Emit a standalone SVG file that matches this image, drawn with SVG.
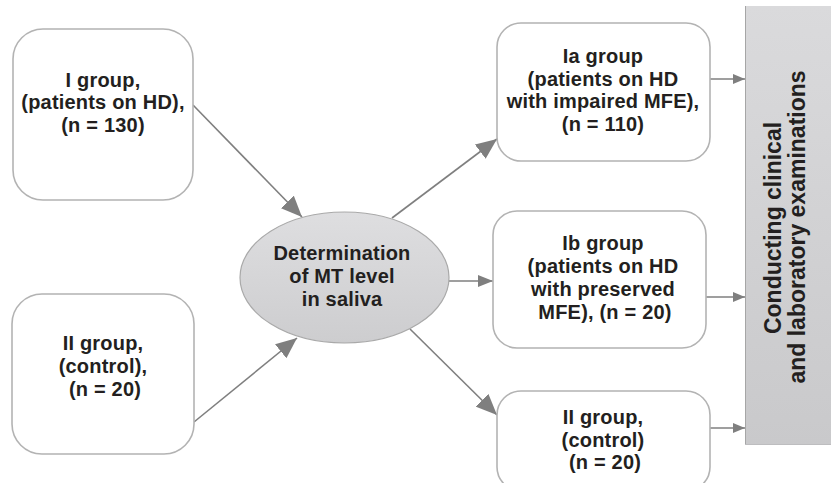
<svg xmlns="http://www.w3.org/2000/svg" width="831" height="483" viewBox="0 0 831 483">
<style>
.box{fill:#fff;stroke:#b3b3b3;stroke-width:1.6}
.t{font-family:"Liberation Sans",Arial,sans-serif;font-weight:bold;font-size:20px;fill:#231f20;text-anchor:middle;letter-spacing:0.2px}
.vt{font-family:"Liberation Sans",Arial,sans-serif;font-weight:bold;font-size:23px;fill:#231f20;text-anchor:middle}
.c{stroke:#7f7f7f;stroke-width:1.6;fill:none}
</style>
<defs>
<marker id="big" markerUnits="userSpaceOnUse" markerWidth="22" markerHeight="18" refX="21" refY="9" orient="auto"><path d="M0,0 L21,9 L0,18 z" fill="#7f7f7f"/></marker>
<marker id="med" markerUnits="userSpaceOnUse" markerWidth="16" markerHeight="12" refX="15" refY="6" orient="auto"><path d="M0,0 L15,6 L0,12 z" fill="#7f7f7f"/></marker>
<marker id="sm" markerUnits="userSpaceOnUse" markerWidth="13" markerHeight="10" refX="12" refY="5" orient="auto"><path d="M0,0 L12,5 L0,10 z" fill="#7f7f7f"/></marker>
<linearGradient id="eg" x1="0" y1="0" x2="0" y2="1"><stop offset="0" stop-color="#dedee0"/><stop offset="1" stop-color="#cdcdcf"/></linearGradient>
<linearGradient id="rg" x1="0" y1="0" x2="0" y2="1"><stop offset="0" stop-color="#dadadc"/><stop offset="1" stop-color="#c9c9cb"/></linearGradient>
</defs>
<g id="connectors">
<line class="c" x1="193" y1="105" x2="302" y2="217" marker-end="url(#big)"/>
<line class="c" x1="194" y1="422" x2="297" y2="338" marker-end="url(#big)"/>
<line class="c" x1="392" y1="218" x2="497" y2="139" marker-end="url(#big)"/>
<line class="c" x1="449" y1="281" x2="493" y2="281" marker-end="url(#med)"/>
<line class="c" x1="410" y1="329" x2="497" y2="415" marker-end="url(#big)"/>
<line class="c" x1="710" y1="79" x2="745" y2="79" marker-end="url(#sm)"/>
<line class="c" x1="706" y1="297" x2="745" y2="297" marker-end="url(#sm)"/>
<line class="c" x1="710" y1="428" x2="745" y2="428" marker-end="url(#sm)"/>
</g>
<g id="group1">
<rect class="box" x="13" y="29" width="180" height="171" rx="30"/>
<text class="t" x="103" y="87">I group,</text>
<text class="t" x="103" y="109">(patients on HD),</text>
<text class="t" x="103" y="132">(n = 130)</text>
</g>
<g id="group2">
<rect class="box" x="12" y="294" width="182" height="160" rx="30"/>
<text class="t" x="103" y="350">II group,</text>
<text class="t" x="103" y="373">(control),</text>
<text class="t" x="105" y="396">(n = 20)</text>
</g>
<g id="determination">
<ellipse cx="344.5" cy="277.5" rx="104.5" ry="65.5" fill="url(#eg)" stroke="#a9a9a9" stroke-width="1.2"/>
<text class="t" x="342" y="260">Determination</text>
<text class="t" x="342" y="283">of MT level</text>
<text class="t" x="342" y="306">in saliva</text>
</g>
<g id="groupIa">
<rect class="box" x="497" y="23" width="213" height="138" rx="24"/>
<text class="t" x="603" y="63">Ia group</text>
<text class="t" x="603" y="86">(patients on HD</text>
<text class="t" x="603" y="108">with impaired MFE),</text>
<text class="t" x="603" y="131">(n = 110)</text>
</g>
<g id="groupIb">
<rect class="box" x="493" y="211" width="213" height="137" rx="24"/>
<text class="t" x="603" y="250">Ib group</text>
<text class="t" x="603" y="273">(patients on HD</text>
<text class="t" x="603" y="296">with preserved</text>
<text class="t" x="605" y="319">MFE), (n = 20)</text>
</g>
<g id="groupII">
<rect class="box" x="497" y="391" width="213" height="100" rx="24"/>
<text class="t" x="603" y="424">II group,</text>
<text class="t" x="603" y="447">(control)</text>
<text class="t" x="605" y="469">(n = 20)</text>
</g>
<g id="examinations">
<rect x="745" y="6" width="86" height="439" fill="url(#rg)"/>
<line x1="745.5" y1="6" x2="745.5" y2="445" stroke="#a6a6a6" stroke-width="1"/>
<line x1="745" y1="444.5" x2="831" y2="444.5" stroke="#bdbdbf" stroke-width="1"/>
<text class="vt" transform="translate(781,228) rotate(-90)">Conducting clinical</text>
<text class="vt" transform="translate(805,227) rotate(-90)">and laboratory examinations</text>
</g>
</svg>
